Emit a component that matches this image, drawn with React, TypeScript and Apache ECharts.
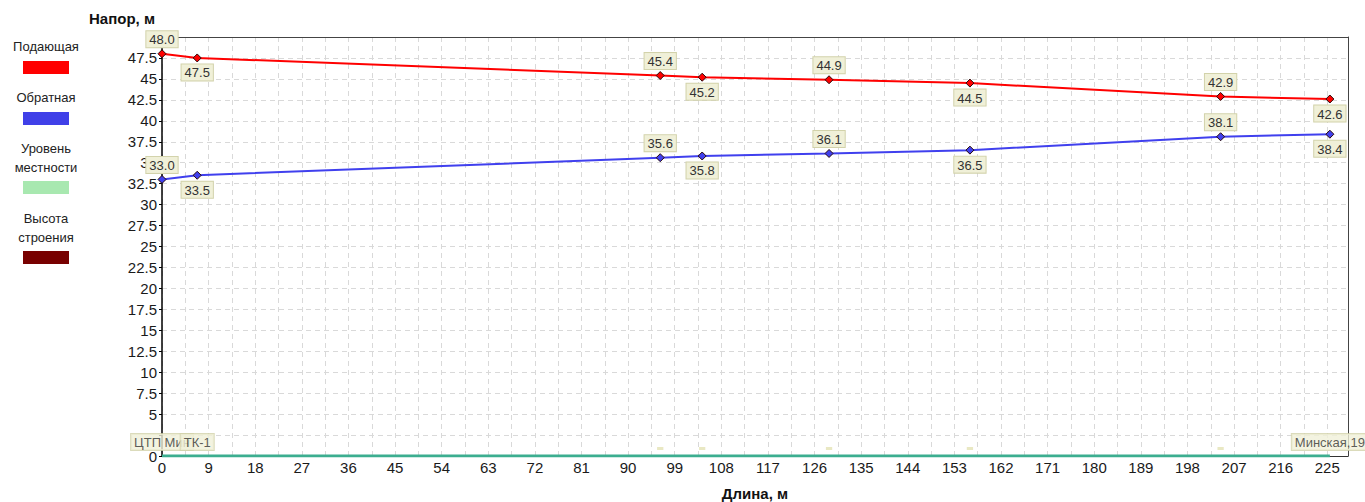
import React, { useEffect, useRef } from "react";
import * as echarts from "echarts";

// Node positions along the pipe (m)
const nodeX = [0, 6.8, 96.2, 104.3, 128.8, 156.0, 204.4, 225.5];
// Supply head (m)
const supplyHead = [48.0, 47.5, 45.4, 45.2, 44.9, 44.5, 42.9, 42.6];
// Return head (m)
const returnHead = [33.0, 33.5, 35.6, 35.8, 36.1, 36.5, 38.1, 38.4];
// Terrain level (m)
const terrainLevel = [0, 0, 0, 0, 0, 0, 0, 0];
// Node names
const nodeNames = ["ЦТП Мин", "ТК-1", "", "", "", "", "", "Минская,19"];
// Legend
const legendNames = ["Подающая", "Обратная", "Уровень\nместности", "Высота\nстроения"];
const legendColors = ["#ff0000", "#4040e8", "#a8e8b0", "#780000"];

const FONT = "'Liberation Sans', Arial, sans-serif";

const labelBox = {
  backgroundColor: "#f0f0d8",
  borderColor: "#d2d2aa",
  borderWidth: 1,
  padding: [2, 3, 1, 3],
  fontSize: 13,
  fontFamily: FONT,
  color: "#333",
};

function headSeries(name: string, values: number[], color: string) {
  return {
    name,
    type: "line",
    symbol: "diamond",
    symbolSize: 8,
    z: 5,
    lineStyle: { color, width: 2 },
    itemStyle: { color, borderColor: "#2a0a0a", borderWidth: 1 },
    label: {
      show: true,
      ...labelBox,
      distance: 2,
      formatter: (p: any) => Number(p.value[1]).toFixed(1),
    },
    data: values.map((v, i) => ({
      value: [nodeX[i], v],
      label: { position: i % 2 === 0 ? "top" : "bottom" },
    })),
  };
}

export default function App() {
  const ref = useRef<HTMLDivElement>(null);

  useEffect(() => {
    if (!ref.current) return;
    const chart = echarts.init(ref.current, undefined, { renderer: "svg" });

    const legendGraphics: any[] = [];
    const textY = [46, 97, 157.5, 227.5];
    const rectY = [61, 112, 181, 251];
    legendNames.forEach((n, i) => {
      legendGraphics.push({
        type: "text",
        x: 46,
        y: textY[i],
        style: {
          text: n,
          font: `13px ${FONT}`,
          fill: "#222",
          textAlign: "center",
          textVerticalAlign: "middle",
          lineHeight: 19,
        },
      });
      legendGraphics.push({
        type: "rect",
        shape: { x: 23, y: rectY[i], width: 46, height: 13 },
        style: { fill: legendColors[i] },
      });
    });

    const gridLine = { color: "#d9d9d9", type: [5, 4], width: 1 };

    const option: any = {
      animation: false,
      backgroundColor: "#ffffff",
      grid: {
        left: 162,
        right: 17,
        top: 37,
        bottom: 46,
        show: false,
      },
      xAxis: [
        {
          type: "value",
          min: 0,
          max: 229,
          interval: 4.5,
          axisLine: { show: true, lineStyle: { color: "#333" } },
          axisTick: { show: false },
          axisLabel: {
            fontSize: 15,
            fontFamily: FONT,
            color: "#1a1a1a",
            margin: 4,
            showMaxLabel: false,
            formatter: (v: number) => (Math.abs(v % 9) < 1e-6 ? String(v) : ""),
          },
          splitLine: { show: true, lineStyle: gridLine },
        },
        {
          type: "value",
          position: "top",
          min: 0,
          max: 229,
          axisLine: { show: true, onZero: false, lineStyle: { color: "#444" } },
          axisTick: { show: false },
          axisLabel: { show: false },
          splitLine: { show: false },
        },
      ],
      yAxis: [
        {
          type: "value",
          min: 0,
          max: 50,
          interval: 2.5,
          axisLine: { show: true, lineStyle: { color: "#000", width: 1.5 } },
          axisTick: { show: true, length: 3, lineStyle: { color: "#000" } },
          axisLabel: {
            fontSize: 15,
            fontFamily: FONT,
            color: "#1a1a1a",
            margin: 5,
            showMaxLabel: false,
            // 2.5 is hidden under the node label box in the original
            formatter: (v: number) => (v === 2.5 ? "" : String(v)),
          },
          splitLine: { show: true, lineStyle: gridLine },
        },
        {
          type: "value",
          position: "right",
          min: 0,
          max: 50,
          axisLine: { show: true, onZero: false, lineStyle: { color: "#444" } },
          axisTick: { show: false },
          axisLabel: { show: false },
          splitLine: { show: false },
        },
      ],
      graphic: [
        ...legendGraphics,
        {
          type: "text",
          x: 122,
          y: 18,
          style: {
            text: "Напор, м",
            font: `bold 15px ${FONT}`,
            fill: "#111",
            textAlign: "center",
            textVerticalAlign: "middle",
          },
        },
        {
          type: "text",
          x: 755,
          y: 493,
          style: {
            text: "Длина, м",
            font: `bold 15px ${FONT}`,
            fill: "#111",
            textAlign: "center",
            textVerticalAlign: "middle",
          },
        },
      ],
      series: [
        {
          name: "Уровень местности",
          type: "line",
          symbol: "none",
          z: 4,
          lineStyle: { color: "#3cae90", width: 3 },
          data: terrainLevel.map((v, i) => [nodeX[i], v]),
        },
        {
          name: "Узлы",
          type: "scatter",
          symbolSize: 0,
          z: 6,
          label: {
            show: true,
            position: "top",
            distance: 6,
            ...labelBox,
            formatter: (p: any) => p.name || " ",
          },
          data: nodeNames.map((n, i) => {
            const item: any = { name: n, value: [nodeX[i], terrainLevel[i]] };
            if (!n) {
              item.label = {
                fontSize: 1,
                lineHeight: 1,
                padding: [1, 3, 1, 3],
                borderWidth: 0,
                backgroundColor: "#e4e2b4",
              };
            }
            return item;
          }),
        },
        headSeries("Обратная", returnHead, "#4040ee"),
        headSeries("Подающая", supplyHead, "#ff0000"),
      ],
    };

    chart.setOption(option);
    return () => chart.dispose();
  }, []);

  return (
    <div
      ref={ref}
      style={{
        position: "fixed",
        left: 0,
        top: 0,
        width: 1365,
        height: 502,
        background: "#fff",
      }}
    />
  );
}
